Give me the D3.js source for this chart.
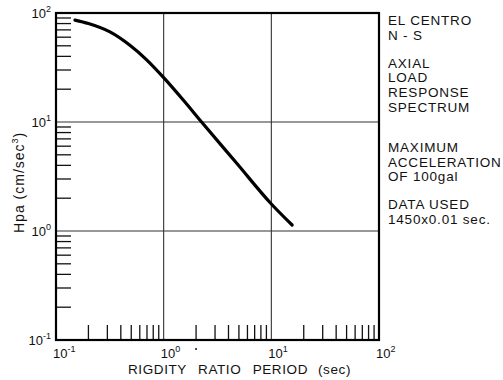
<!DOCTYPE html>
<html><head><meta charset="utf-8">
<script src="https://cdn.jsdelivr.net/npm/d3@7"></script>
<style>body{margin:0;background:#fff}svg{display:block}text{font-family:"Liberation Sans",Arial,sans-serif;fill:#111}</style>
</head><body><svg id="c" width="503" height="380"></svg>
<script>
const period = [0.15, 0.2, 0.317, 0.486, 0.695, 1.02, 1.52, 2.25, 4.77, 10, 15.6];
const hpa    = [86, 80, 67, 50.5, 37.2, 25, 15.9, 10, 4.18, 1.77, 1.135];
const xDecades = [-1, 0, 1, 2];
const yDecades = [-1, 0, 1, 2];
const notes = [["EL CENTRO","N - S"],["AXIAL","LOAD","RESPONSE","SPECTRUM"],["MAXIMUM","ACCELERATION","OF 100gal"],["DATA USED","1450x0.01 sec."]];
const xTitle = "RIGDITY RATIO PERIOD";
const xUnit = "(sec)";
const yTitle = "Hpa";
const yUnit = "(cm/sec";

const svg = d3.select("#c");
const L=56,R=379,T=13,B=340;
const x = d3.scaleLog().domain([0.1,100]).range([L,R]);
const y = d3.scaleLog().domain([0.1,100]).range([B,T]);
const minor = [];
[-1,0,1].forEach(k=>{for(let m=2;m<=9;m++) minor.push(m*Math.pow(10,k));});

const g = svg.append("g");
[1,10].forEach(v=>{
  g.append("line").attr("x1",x(v)).attr("x2",x(v)).attr("y1",T).attr("y2",B).attr("stroke","#333").attr("stroke-width",1.1);
  g.append("line").attr("x1",L).attr("x2",R).attr("y1",y(v)).attr("y2",y(v)).attr("stroke","#333").attr("stroke-width",1.1);
});
g.selectAll(".tx").data(minor).enter().append("line")
  .attr("x1",d=>x(d)).attr("x2",d=>x(d)).attr("y1",B).attr("y2",B-15).attr("stroke","#111").attr("stroke-width",1.3);
g.selectAll(".ty").data(minor).enter().append("line")
  .attr("x1",L).attr("x2",L+15).attr("y1",d=>y(d)).attr("y2",d=>y(d)).attr("stroke","#111").attr("stroke-width",1.3);
g.append("rect").attr("x",L).attr("y",T).attr("width",R-L).attr("height",B-T).attr("fill","none").attr("stroke","#000").attr("stroke-width",2.2);

const line = d3.line().x(d=>x(d[0])).y(d=>y(d[1])).curve(d3.curveMonotoneX);
g.append("path").datum(period.map((p,i)=>[p,hpa[i]])).attr("d",line)
  .attr("fill","none").attr("stroke","#000").attr("stroke-width",3.2).attr("stroke-linecap","round");

function pow10(sel, k){
  sel.append("tspan").text("10");
  sel.append("tspan").attr("dy",-6).attr("font-size",9).text(k);
}
xDecades.forEach(k=>{
  const t = svg.append("text").attr("x",x(Math.pow(10,k))-3).attr("y",358).attr("font-size",13);
  pow10(t,k);
});
yDecades.forEach(k=>{
  const t = svg.append("text").attr("x",L-5).attr("y",y(Math.pow(10,k))+5).attr("font-size",13).attr("text-anchor","end");
  pow10(t,k);
});
svg.append("circle").attr("cx",x(2)).attr("cy",349).attr("r",1).attr("fill","#111");

svg.append("text").attr("x",128).attr("y",374).attr("font-size",13.5).attr("letter-spacing",0.6).attr("word-spacing",7).text(xTitle);
svg.append("text").attr("x",318).attr("y",374).attr("font-size",13.5).attr("letter-spacing",0.6).text(xUnit);
const yt = svg.append("text").attr("transform","translate(24,233) rotate(-90)").attr("font-size",14).attr("letter-spacing",1);
yt.append("tspan").text(yTitle+"  "+yUnit);
yt.append("tspan").attr("dy",-6).attr("font-size",9).text("3");
yt.append("tspan").attr("dy",6).text(")");

const groupGap = [0, 13, 25, 13];
let yy = 25;
notes.forEach((grp,gi)=>{
  yy += groupGap[gi];
  grp.forEach(s=>{
    svg.append("text").attr("x",388).attr("y",yy).attr("font-size",13.5).attr("letter-spacing",0.8).text(s);
    yy += 14.8;
  });
});
</script></body></html>
